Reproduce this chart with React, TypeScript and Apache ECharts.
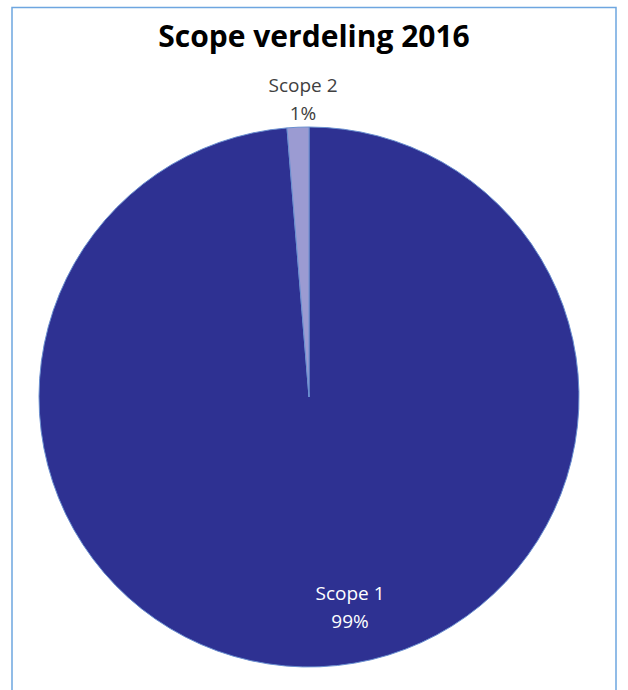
import React, { useEffect, useRef } from "react";
import * as echarts from "echarts";

const title = "Scope verdeling 2016";
const categories = ["Scope 1", "Scope 2"];
const values = [98.7, 1.3];
const colors = ["#2E3192", "#9B9BD2"];
const labelColors = ["#FFFFFF", "#404040"];

export default function App() {
  const ref = useRef<HTMLDivElement>(null);
  useEffect(() => {
    if (!ref.current) return;
    const chart = echarts.init(ref.current, null, { renderer: "svg" });
    const labelPos = [
      { x: 350, y: 607 },
      { x: 303, y: 99 },
    ];
    chart.setOption({
      animation: false,
      backgroundColor: "#FFFFFF",
      title: {
        text: title,
        left: "center",
        top: 15,
        textStyle: {
          fontFamily: "Open Sans",
          fontWeight: "bold",
          fontSize: 30,
          color: "#000000",
        },
      },
      graphic: [
        {
          type: "rect",
          shape: { x: 12, y: 7.5, width: 604, height: 700 },
          style: { fill: "none", stroke: "#6EA6E0", lineWidth: 1.5 },
          silent: true,
        },
      ],
      series: [
        {
          type: "pie",
          center: [309, 397],
          radius: 270,
          startAngle: 90,
          clockwise: true,
          percentPrecision: 0,
          itemStyle: { borderColor: "#6A8FD0", borderWidth: 1 },
          label: {
            show: true,
            position: "inside",
            formatter: "{b}\n{d}%",
            fontFamily: "Open Sans",
            fontSize: 19,
            lineHeight: 28,
            align: "center",
            verticalAlign: "middle",
          },
          labelLine: { show: false },
          labelLayout: (params: any) => labelPos[params.dataIndex],
          emphasis: { disabled: true },
          data: categories.map((c, i) => ({
            name: c,
            value: values[i],
            itemStyle: { color: colors[i] },
            label: { color: labelColors[i] },
          })),
        },
      ],
    });
    return () => chart.dispose();
  }, []);
  return (
    <div
      ref={ref}
      style={{ position: "fixed", left: 0, top: 0, width: 628, height: 690 }}
    />
  );
}
